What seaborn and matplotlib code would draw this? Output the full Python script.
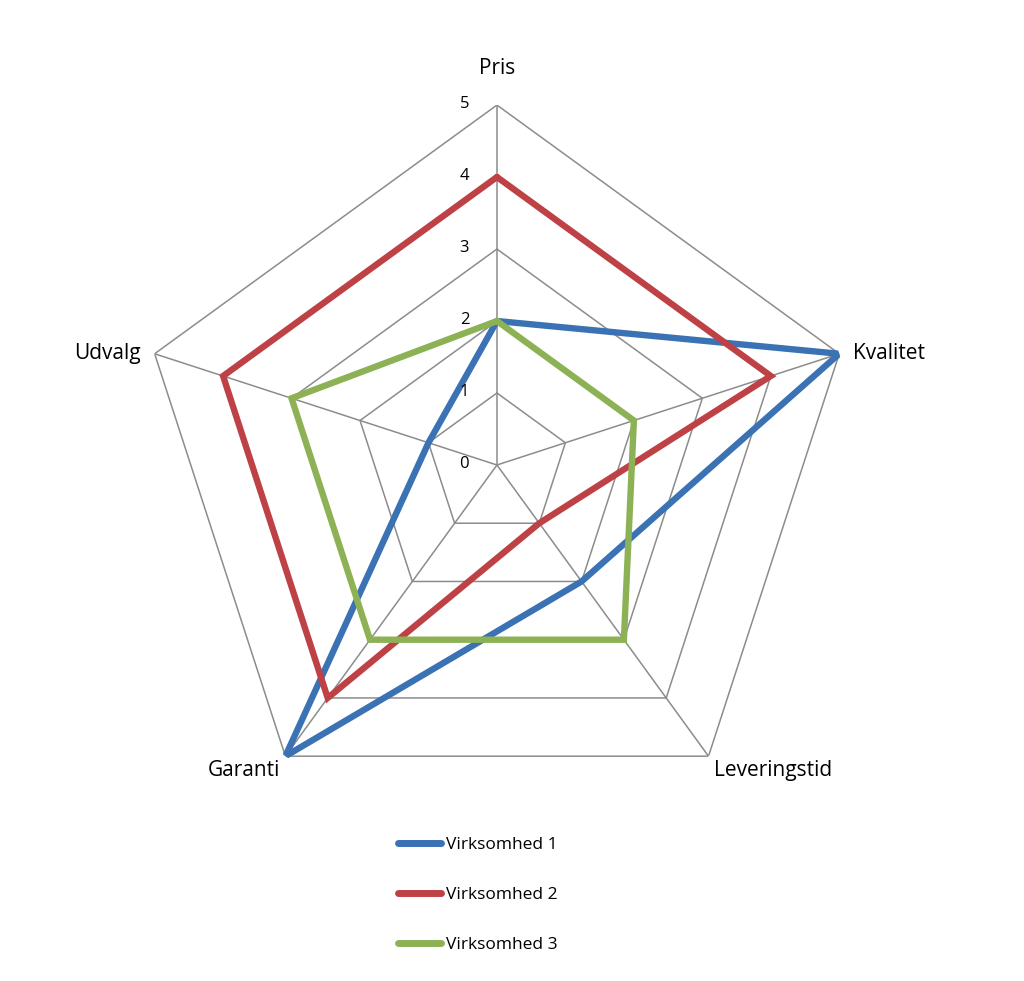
import numpy as np
import pandas as pd
import matplotlib
matplotlib.use('Agg')
import matplotlib.pyplot as plt
from matplotlib.lines import Line2D
import seaborn as sns

# Data
categories = ['Pris', 'Kvalitet', 'Leveringstid', 'Garanti', 'Udvalg']
virksomhed_1 = [2, 5, 2, 5, 1]
virksomhed_2 = [4, 4, 1, 4, 4]
virksomhed_3 = [2, 2, 3, 3, 3]
series_names = ['Virksomhed 1', 'Virksomhed 2', 'Virksomhed 3']
ticks = [0, 1, 2, 3, 4, 5]

colors = ['#3A72B4', '#BE4145', '#8DB255']

sns.set_theme(style='white')
plt.rcParams['font.family'] = ['Open Sans', 'DejaVu Sans']
plt.rcParams['text.color'] = 'black'

n = len(categories)
angles = np.linspace(0, 2 * np.pi, n, endpoint=False)
closed_angles = np.append(angles, angles[0] + 2 * np.pi)

# long table for seaborn, closing each polygon
rows = []
for name, vals in zip(series_names, [virksomhed_1, virksomhed_2, virksomhed_3]):
    closed_vals = list(vals) + [vals[0]]
    for i, (a, v) in enumerate(zip(closed_angles, closed_vals)):
        rows.append({'order': i, 'theta': a, 'value': v, 'Virksomhed': name})
df = pd.DataFrame(rows)

fig = plt.figure(figsize=(10.24, 9.81), dpi=100)
ax = fig.add_axes([0.1338, 0.159, 0.703, 0.734], projection='polar')
ax.set_theta_offset(np.pi / 2)
ax.set_theta_direction(-1)
ax.set_ylim(0, 5)
ax.grid(False)
ax.spines['polar'].set_visible(False)
ax.set_xticks([])
ax.set_yticks([])
ax.patch.set_alpha(0)

# polygon grid and spokes
for t in ticks[1:]:
    ax.plot(closed_angles, [t] * len(closed_angles), color='#8C8C8C', lw=1.1, zorder=1)
for a in angles:
    ax.plot([a, a], [0, ticks[-1]], color='#8C8C8C', lw=1.1, zorder=1)

sns.lineplot(data=df, x='theta', y='value', hue='Virksomhed', sort=False,
             estimator=None, palette=colors, linewidth=4.6, ax=ax, legend=False,
             zorder=3)
for line in ax.get_lines()[-3:]:
    line.set_solid_joinstyle('miter')
    line.set_solid_capstyle('round')

ax.set_xlabel('')
ax.set_ylabel('')

# radial tick labels along Pris axis
for t in ticks:
    ax.annotate(str(t), xy=(0, t), xytext=(-20, 1), textcoords='offset points',
                ha='right', va='center', fontsize=12, color='black')

# category labels
label_font = 15
ax.annotate(categories[0], xy=(angles[0], 5), xytext=(0, 26), textcoords='offset points',
            ha='center', va='center', fontsize=label_font)
ax.annotate(categories[1], xy=(angles[1], 5), xytext=(10, 0), textcoords='offset points',
            ha='left', va='center', fontsize=label_font)
ax.annotate(categories[2], xy=(angles[2], 5), xytext=(4, -10), textcoords='offset points',
            ha='left', va='center', fontsize=label_font)
ax.annotate(categories[3], xy=(angles[3], 5), xytext=(-4, -10), textcoords='offset points',
            ha='right', va='center', fontsize=label_font)
ax.annotate(categories[4], xy=(angles[4], 5), xytext=(-10, 0), textcoords='offset points',
            ha='right', va='center', fontsize=label_font)

handles = [Line2D([0], [0], color=c, lw=5, solid_capstyle='round') for c in colors]
fig.legend(handles, series_names, loc='upper left', bbox_to_anchor=(0.373, 0.163),
           frameon=False, fontsize=12.5, handlelength=2.5, handletextpad=0.3,
           labelspacing=1.95)

fig.savefig('out.png', dpi=100, facecolor='white')
